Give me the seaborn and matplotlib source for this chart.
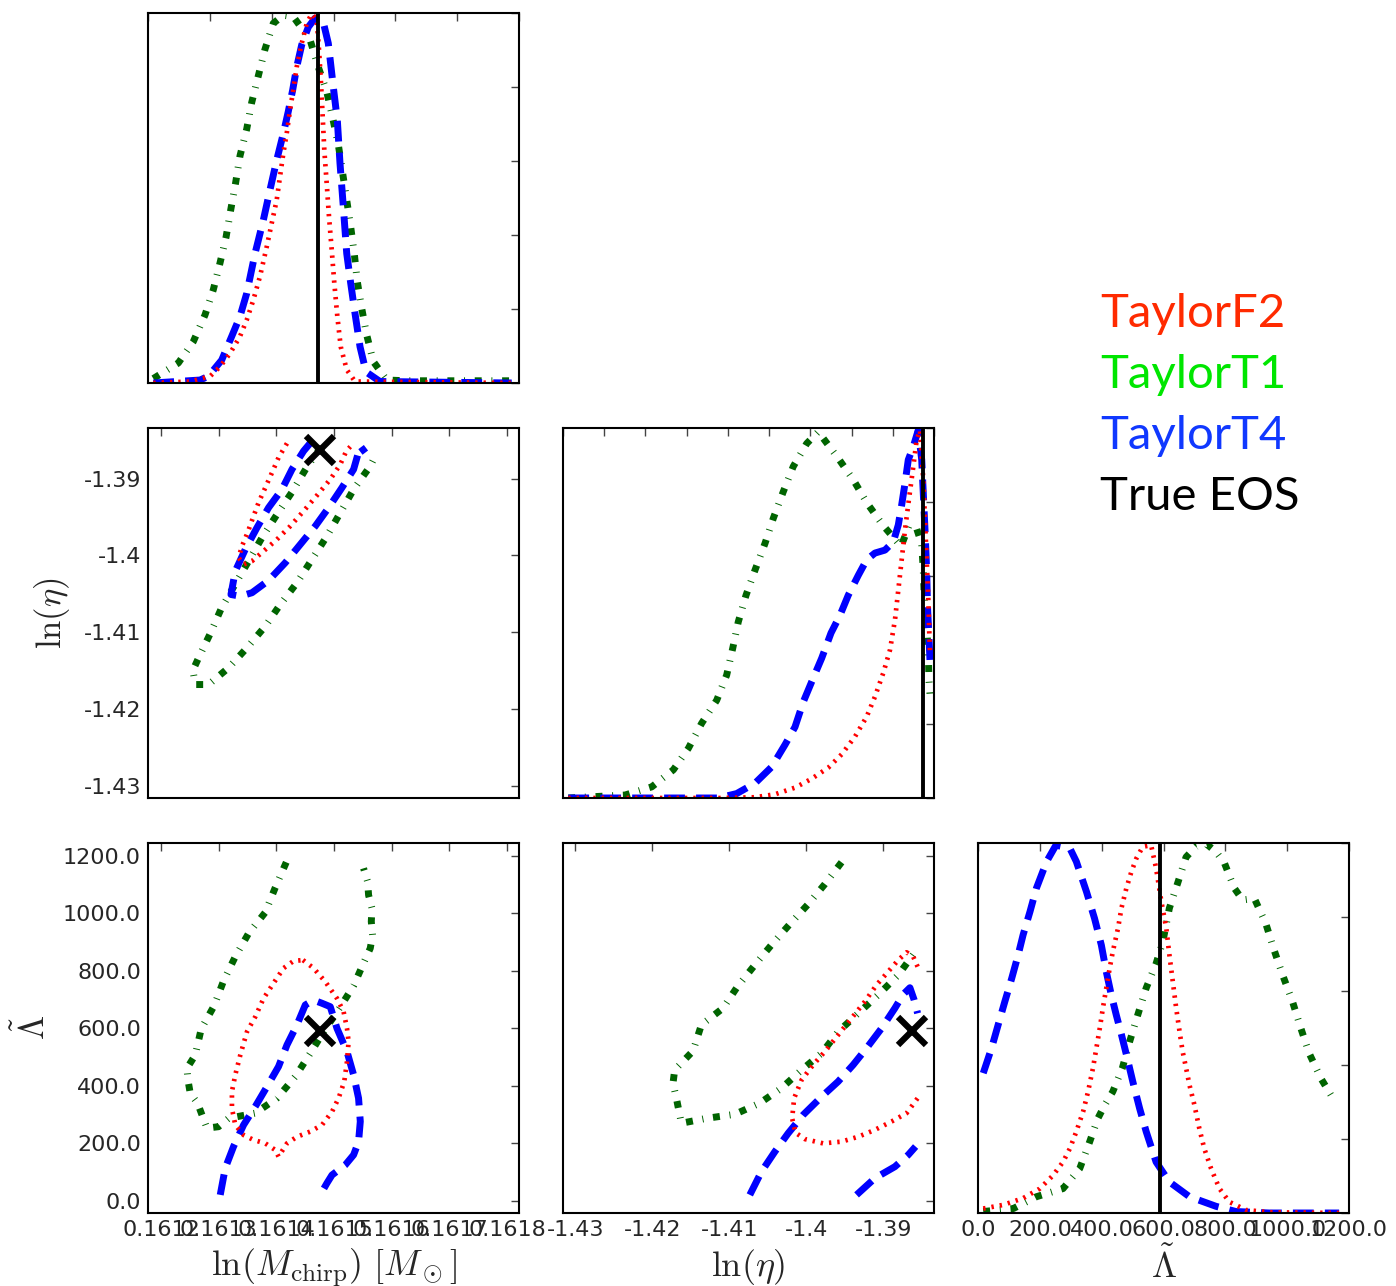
import matplotlib
matplotlib.use("Agg")
import matplotlib.pyplot as plt
from matplotlib.ticker import FormatStrFormatter
import seaborn as sns

# ---------------------------------------------------------------- data
labels = ["TaylorF2", "TaylorT1", "TaylorT4", "True EOS"]
label_colors = ["#FF2A00", "#00E600", "#1038FF", "black"]

true_lnmc = 0.161475
true_lneta = -1.3863
true_lambda = 590.0

lnmc_ticks = [0.1612, 0.1613, 0.1614, 0.1615, 0.1616, 0.1617, 0.1618]
lneta_ticks = [-1.43, -1.42, -1.41, -1.40, -1.39]
lneta_fine_ticks = [-1.43, -1.425, -1.42, -1.415, -1.41, -1.405, -1.40, -1.395, -1.39, -1.385]
lambda_ticks = [0, 200, 400, 600, 800, 1000, 1200]
density_ticks = [0, 1, 2, 3, 4, 5]

# marginal of ln(Mchirp)
mc_f2_x = [0.1612086, 0.1612679, 0.1613003, 0.1613164, 0.1613326, 0.1613488, 0.1613596, 0.1613703,
           0.1613811, 0.1613920, 0.1614001, 0.1614081, 0.1614135, 0.1614188, 0.1614243, 0.1614297,
           0.1614350, 0.1614405, 0.1614486, 0.1614567, 0.1614648, 0.1614728, 0.1614766, 0.1614798,
           0.1614825, 0.1614851, 0.1614890, 0.1614927, 0.1614971, 0.1615013, 0.1615062, 0.1615117,
           0.1615214, 0.1615348, 0.1617882]
mc_f2_y = [0.00, 0.02, 0.09, 0.22, 0.40, 0.63, 0.85, 1.12, 1.44, 1.84, 2.16, 2.47, 2.79, 3.10, 3.37,
           3.69, 3.96, 4.27, 4.59, 4.86, 4.99, 4.91, 4.50, 4.05, 3.60, 3.15, 2.70, 2.25, 1.80, 1.35,
           0.90, 0.49, 0.18, 0.02, 0.00]
mc_t1_x = [0.1612086, 0.1612490, 0.1612733, 0.1612922, 0.1613056, 0.1613164, 0.1613262, 0.1613338,
           0.1613418, 0.1613488, 0.1613596, 0.1613677, 0.1613784, 0.1613892, 0.1614026, 0.1614188,
           0.1614350, 0.1614620, 0.1614754, 0.1614890, 0.1614987, 0.1615078, 0.1615149, 0.1615214,
           0.1615278, 0.1615337, 0.1615385, 0.1615456, 0.1615537, 0.1615644, 0.1615861, 0.1616184,
           0.1617908]
mc_t1_y = [0.06, 0.27, 0.56, 0.92, 1.26, 1.62, 1.97, 2.34, 2.71, 3.07, 3.43, 3.79, 4.15, 4.51, 4.86,
           4.97, 4.95, 4.64, 4.27, 3.94, 3.58, 3.22, 2.83, 2.47, 2.11, 1.74, 1.37, 1.01, 0.65, 0.29,
           0.04, 0.03, 0.03]
mc_t4_x = [0.1612086, 0.1612841, 0.1612975, 0.1613192, 0.1613354, 0.1613488, 0.1613596, 0.1613731,
           0.1613865, 0.1613973, 0.1614081, 0.1614188, 0.1614269, 0.1614340, 0.1614405, 0.1614486,
           0.1614593, 0.1614701, 0.1614825, 0.1614916, 0.1614997, 0.1615062, 0.1615105, 0.1615159,
           0.1615214, 0.1615278, 0.1615348, 0.1615429, 0.1615526, 0.1615752, 0.1617882]
mc_t4_y = [0.00, 0.04, 0.09, 0.31, 0.63, 0.90, 1.21, 1.75, 2.20, 2.61, 3.01, 3.37, 3.67, 3.96, 4.27,
           4.57, 4.81, 4.93, 4.91, 4.59, 4.00, 3.55, 2.97, 2.38, 1.75, 1.35, 0.94, 0.49, 0.15, 0.02,
           0.00]

# contours in ln(Mchirp) - ln(eta)
c10_t1_x = [0.1614773, 0.1614512, 0.1614269, 0.1614009, 0.1613748, 0.1613516, 0.1613273, 0.1613042,
            0.1612851, 0.1612648, 0.1612550, 0.1612590, 0.1612821, 0.1613168, 0.1613488, 0.1613806,
            0.1614066, 0.1614356, 0.1614616, 0.1614877, 0.1615108, 0.1615339, 0.1615628, 0.1615745]
c10_t1_y = [-1.38583, -1.38870, -1.39175, -1.39466, -1.39769, -1.40074, -1.40387, -1.40691,
            -1.41017, -1.41334, -1.41496, -1.41682, -1.41682, -1.41464, -1.41203, -1.40922,
            -1.40639, -1.40356, -1.40052, -1.39748, -1.39443, -1.39140, -1.38836, -1.38661]
c10_t4_x = [0.1614616, 0.1614471, 0.1614269, 0.1614095, 0.1613863, 0.1613661, 0.1613458, 0.1613285,
            0.1613210, 0.1613371, 0.1613575, 0.1613863, 0.1614153, 0.1614413, 0.1614674, 0.1614905,
            0.1615137, 0.1615339, 0.1615455, 0.1615542]
c10_t4_y = [-1.38510, -1.38640, -1.38879, -1.39140, -1.39378, -1.39639, -1.39922, -1.40205,
            -1.40509, -1.40531, -1.40486, -1.40326, -1.40095, -1.39857, -1.39618, -1.39378,
            -1.39117, -1.38879, -1.38575, -1.38661]
c10_f2_x = [0.1614182, 0.1614036, 0.1613922, 0.1613806, 0.1613689, 0.1613592, 0.1613498, 0.1613401,
            0.1613342, 0.1613429, 0.1613575, 0.1613776, 0.1614009, 0.1614240, 0.1614471, 0.1614703,
            0.1614934, 0.1615108, 0.1615212, 0.1615281]
c10_f2_y = [-1.38540, -1.38726, -1.38922, -1.39117, -1.39313, -1.39509, -1.39704, -1.39879,
            -1.40030, -1.40117, -1.40074, -1.39944, -1.39791, -1.39618, -1.39422, -1.39218,
            -1.39009, -1.38814, -1.38640, -1.38583]

# marginal of ln(eta)
eta_t1_x = [-1.42936, -1.42248, -1.41924, -1.41662, -1.41480, -1.41318, -1.41136, -1.41015,
            -1.40942, -1.40874, -1.40780, -1.40671, -1.40550, -1.40449, -1.40328, -1.40207,
            -1.40044, -1.39904, -1.39661, -1.39479, -1.39309, -1.39115, -1.38900, -1.38803,
            -1.38710, -1.38649, -1.38630, -1.38618, -1.38589, -1.38569, -1.38561, -1.38549]
eta_t1_y = [0.00, 0.04, 0.15, 0.38, 0.67, 1.01, 1.32, 1.66, 2.02, 2.38, 2.74, 3.08, 3.44, 3.78, 4.14,
            4.48, 4.79, 4.95, 4.59, 4.30, 3.98, 3.68, 3.40, 3.68, 3.64, 3.43, 3.08, 2.72, 2.31, 1.96,
            1.59, 1.41]
eta_t4_x = [-1.42936, -1.41116, -1.40893, -1.40671, -1.40469, -1.40307, -1.40186, -1.40085,
            -1.39984, -1.39862, -1.39749, -1.39640, -1.39540, -1.39418, -1.39316, -1.39216,
            -1.39095, -1.38994, -1.38933, -1.38892, -1.38852, -1.38812, -1.38751, -1.38691,
            -1.38649, -1.38630, -1.38609, -1.38589, -1.38577, -1.38561, -1.38549]
eta_t4_y = [0.00, 0.00, 0.06, 0.20, 0.42, 0.72, 0.96, 1.30, 1.57, 1.89, 2.23, 2.47, 2.74, 3.01, 3.22,
            3.31, 3.35, 3.46, 3.69, 3.96, 4.25, 4.57, 4.75, 4.97, 4.57, 4.12, 3.62, 3.08, 2.54, 2.18,
            1.86]
eta_f2_x = [-1.42936, -1.41075, -1.40671, -1.40429, -1.40186, -1.39984, -1.39782, -1.39620,
            -1.39458, -1.39316, -1.39216, -1.39115, -1.39034, -1.38973, -1.38933, -1.38892,
            -1.38852, -1.38800, -1.38751, -1.38710, -1.38670, -1.38630, -1.38609, -1.38589,
            -1.38569, -1.38557, -1.38549]
eta_f2_y = [0.00, 0.00, 0.01, 0.05, 0.14, 0.26, 0.41, 0.59, 0.83, 1.10, 1.37, 1.69, 2.00, 2.41, 2.81,
            3.22, 3.62, 4.07, 4.48, 4.84, 4.97, 4.30, 3.76, 3.22, 2.68, 2.23, 1.96]

# contours in ln(Mchirp) - Lambda
c20_t1_x = [0.1614170, 0.1613979, 0.1613806, 0.1613516, 0.1613285, 0.1613082, 0.1612920, 0.1612694,
            0.1612590, 0.1612446, 0.1612464, 0.1612503, 0.1612630, 0.1612793, 0.1612995, 0.1613168,
            0.1613632, 0.1614009, 0.1614326, 0.1614587, 0.1614818, 0.1615095, 0.1615339, 0.1615524,
            0.1615628, 0.1615668, 0.1615646, 0.1615658, 0.1615599, 0.1615582, 0.1615512]
c20_t1_y = [1177, 1089, 1003, 930, 849, 765, 679, 598, 507, 461, 420, 374, 340, 253, 258, 287, 305,
            357, 432, 513, 588, 670, 748, 832, 878, 924, 971, 1017, 1063, 1110, 1156]
c20_f2_x = [0.1614460, 0.1614644, 0.1614847, 0.1615050, 0.1615165, 0.1615224, 0.1615252, 0.1615224,
            0.1615177, 0.1615078, 0.1614964, 0.1614790, 0.1614587, 0.1614356, 0.1614182, 0.1614036,
            0.1613979, 0.1613806, 0.1613602, 0.1613429, 0.1613285, 0.1613227, 0.1613227, 0.1613285,
            0.1613372, 0.1613488, 0.1613632, 0.1613776, 0.1613950, 0.1614123, 0.1614297, 0.1614460]
c20_f2_y = [837, 809, 762, 704, 658, 600, 554, 484, 415, 357, 310, 264, 241, 223, 200, 154, 177, 200,
            212, 229, 264, 322, 380, 438, 507, 588, 640, 704, 757, 809, 834, 837]
c20_t4_x = [0.1613024, 0.1613111, 0.1613255, 0.1613429, 0.1613632, 0.1613835, 0.1614036, 0.1614182,
            0.1614356, 0.1614500, 0.1614644, 0.1614790, 0.1614934, 0.1615050, 0.1615224, 0.1615339,
            0.1615425, 0.1615455, 0.1615425, 0.1615339, 0.1615194, 0.1614964, 0.1614877, 0.1614760]
c20_t4_y = [21, 114, 189, 264, 328, 397, 467, 542, 612, 681, 698, 687, 675, 600, 519, 438, 357, 276,
            206, 160, 125, 90, 62, 21]

# contours in ln(eta) - Lambda
c21_t1_x = [-1.39541, -1.39758, -1.39983, -1.40213, -1.40451, -1.40668, -1.40893, -1.41081,
            -1.41362, -1.41471, -1.41709, -1.41731, -1.41687, -1.41622, -1.41297, -1.40929,
            -1.40603, -1.40321, -1.40061, -1.39801, -1.39585, -1.39325, -1.39065, -1.38805,
            -1.38597]
c21_t1_y = [1177, 1101, 1029, 962, 890, 820, 745, 670, 612, 521, 455, 409, 357, 270, 287, 301, 340,
            392, 455, 513, 588, 652, 716, 785, 861]
c21_f2_x = [-1.38553, -1.38610, -1.38696, -1.38805, -1.38935, -1.39086, -1.39238, -1.39411,
            -1.39585, -1.39758, -1.39910, -1.40061, -1.40157, -1.40183, -1.40139, -1.40018,
            -1.39780, -1.39541, -1.39325, -1.39108, -1.38891, -1.38696, -1.38553]
c21_f2_y = [814, 849, 864, 837, 797, 751, 693, 635, 577, 519, 473, 420, 357, 287, 237, 215, 200,
            206, 223, 247, 276, 305, 357]
c21_t4a_x = [-1.40733, -1.40581, -1.40408, -1.40235, -1.40040, -1.39801, -1.39585, -1.39390,
             -1.39216, -1.39021, -1.38848, -1.38740, -1.38653, -1.38597, -1.38553]
c21_t4a_y = [21, 102, 171, 235, 299, 362, 415, 473, 531, 600, 670, 718, 741, 698, 652]
c21_t4b_x = [-1.39346, -1.39108, -1.38848, -1.38675, -1.38579]
c21_t4b_y = [21, 79, 119, 160, 189]

# marginal of Lambda
lam_t4_x = [17, 44, 65, 87, 109, 130, 146, 168, 189, 222, 252, 297, 318, 351, 377, 399, 415, 431,
            447, 464, 480, 501, 523, 544, 576, 619, 684, 770, 834, 942, 1168]
lam_t4_y = [1.89, 2.23, 2.54, 2.86, 3.17, 3.49, 3.76, 4.07, 4.39, 4.75, 4.97, 4.93, 4.75, 4.34, 3.98,
            3.62, 3.26, 2.95, 2.68, 2.41, 2.14, 1.77, 1.41, 1.10, 0.69, 0.42, 0.22, 0.09, 0.02, 0.00,
            0.00]
lam_f2_x = [17, 82, 146, 200, 243, 275, 297, 318, 340, 356, 372, 383, 394, 404, 415, 426, 436, 453,
            464, 480, 496, 512, 533, 560, 576, 593, 609, 619, 630, 641, 652, 662, 673, 684, 700, 716,
            732, 754, 781, 813, 867, 942, 1168]
lam_f2_y = [0.06, 0.11, 0.20, 0.33, 0.51, 0.69, 0.87, 1.10, 1.37, 1.64, 1.96, 2.23, 2.50, 2.77, 3.04,
            3.31, 3.53, 3.85, 4.12, 4.39, 4.61, 4.79, 4.95, 4.97, 4.66, 4.21, 3.85, 3.49, 3.13, 2.77,
            2.45, 2.18, 1.96, 1.73, 1.46, 1.14, 0.87, 0.60, 0.33, 0.15, 0.04, 0.01, 0.00]
lam_t1_x = [17, 114, 189, 275, 329, 361, 388, 410, 436, 467, 490, 517, 544, 576, 598, 619, 646, 673,
            705, 738, 770, 797, 829, 856, 894, 931, 958, 985, 1017, 1044, 1071, 1109, 1135, 1155]
lam_t1_y = [0.02, 0.06, 0.22, 0.33, 0.60, 0.96, 1.28, 1.46, 1.64, 1.96, 2.31, 2.68, 3.04, 3.37, 3.67,
            4.12, 4.46, 4.81, 4.95, 4.99, 4.88, 4.73, 4.39, 4.23, 4.25, 3.91, 3.55, 3.22, 2.86, 2.50,
            2.16, 1.82, 1.64, 1.50]

# ---------------------------------------------------------------- style
sns.set_style("white")
plt.rcParams.update({
    "font.family": ["DejaVu Sans"],
    "mathtext.fontset": "cm",
    "axes.unicode_minus": False,
    "lines.scale_dashes": False,
    "axes.linewidth": 1.5,
    "axes.edgecolor": "black",
    "figure.facecolor": "white",
})

STYLE = {
    "TaylorF2": dict(color="#FF0000", linewidth=3.4, linestyle=(0, (1.7, 4.3))),
    "TaylorT1": dict(color="#006400", linewidth=5.0, linestyle=(0, (5.0, 7.0, 0.7, 7.0))),
    "TaylorT4": dict(color="#0000FF", linewidth=5.0, linestyle=(0, (15.0, 8.0))),
}


def curve(ax, xs, ys, key):
    sns.lineplot(x=xs, y=ys, sort=False, estimator=None, ax=ax, **STYLE[key])


fig = plt.figure(figsize=(13.96, 12.86), dpi=100)
FW, FH = 1396.0, 1286.0
AW, AH = 371.0, 370.0


def panel(left, top):
    return fig.add_axes([left / FW, 1 - (top + AH) / FH, AW / FW, AH / FH])


def style_axes(ax, show_x=False, show_y=False):
    ax.tick_params(direction="in", top=True, right=True, length=6, width=1.0,
                   color="#444444", labelsize=16, pad=5,
                   labelbottom=show_x, labelleft=show_y)
    for s in ax.spines.values():
        s.set_linewidth(1.5)
        s.set_color("black")
        s.set_visible(True)


cols = [148, 563, 978]
rows = [13, 428, 843]

lnmc_lim = (0.161177, 0.161821)
lneta_lim = (-1.4316, -1.3834)
lambda_ylim = (-42, 1244)

# ln(Mchirp) marginal
ax00 = panel(cols[0], rows[0])
curve(ax00, mc_t1_x, mc_t1_y, "TaylorT1")
curve(ax00, mc_t4_x, mc_t4_y, "TaylorT4")
curve(ax00, mc_f2_x, mc_f2_y, "TaylorF2")
ax00.axvline(true_lnmc, color="black", lw=2.8)
ax00.set_xlim(lnmc_ticks[0], lnmc_ticks[-1])
ax00.set_ylim(density_ticks[0], density_ticks[-1])
ax00.set_xticks(lnmc_ticks)
ax00.set_yticks(density_ticks)
style_axes(ax00)

# ln(Mchirp) - ln(eta)
ax10 = panel(cols[0], rows[1])
curve(ax10, c10_t1_x, c10_t1_y, "TaylorT1")
curve(ax10, c10_t4_x, c10_t4_y, "TaylorT4")
curve(ax10, c10_f2_x, c10_f2_y, "TaylorF2")
ax10.plot([true_lnmc], [true_lneta], marker="x", ms=20, mew=4.5, color="black", ls="none")
ax10.set_xlim(*lnmc_lim)
ax10.set_ylim(*lneta_lim)
ax10.set_xticks(lnmc_ticks)
ax10.set_yticks(lneta_ticks)
ax10.yaxis.set_major_formatter(FormatStrFormatter("%g"))
style_axes(ax10, show_y=True)
ax10.set_ylabel(r"$\ln(\eta)$", fontsize=25, labelpad=8)

# ln(eta) marginal
ax11 = panel(cols[1], rows[1])
curve(ax11, eta_t1_x, eta_t1_y, "TaylorT1")
curve(ax11, eta_t4_x, eta_t4_y, "TaylorT4")
curve(ax11, eta_f2_x, eta_f2_y, "TaylorF2")
ax11.axvline(true_lneta, color="black", lw=2.8)
ax11.set_xlim(lneta_fine_ticks[0], lneta_fine_ticks[-1])
ax11.set_ylim(density_ticks[0], density_ticks[-1])
ax11.set_xticks(lneta_fine_ticks)
ax11.set_yticks(density_ticks)
style_axes(ax11)

# ln(Mchirp) - Lambda
ax20 = panel(cols[0], rows[2])
curve(ax20, c20_t1_x, c20_t1_y, "TaylorT1")
curve(ax20, c20_t4_x, c20_t4_y, "TaylorT4")
curve(ax20, c20_f2_x, c20_f2_y, "TaylorF2")
ax20.plot([true_lnmc], [true_lambda], marker="x", ms=20, mew=4.5, color="black", ls="none")
ax20.set_xlim(*lnmc_lim)
ax20.set_ylim(*lambda_ylim)
ax20.set_xticks(lnmc_ticks)
ax20.set_yticks(lambda_ticks)
ax20.xaxis.set_major_formatter(FormatStrFormatter("%g"))
ax20.yaxis.set_major_formatter(FormatStrFormatter("%.1f"))
style_axes(ax20, show_x=True, show_y=True)
ax20.set_xlabel(r"$\ln(M_{\rm chirp})\ [M_\odot]$", fontsize=26, labelpad=5)
ax20.set_ylabel(r"$\tilde{\Lambda}$", fontsize=25, labelpad=8)

# ln(eta) - Lambda
ax21 = panel(cols[1], rows[2])
curve(ax21, c21_t1_x, c21_t1_y, "TaylorT1")
curve(ax21, c21_t4a_x, c21_t4a_y, "TaylorT4")
curve(ax21, c21_t4b_x, c21_t4b_y, "TaylorT4")
curve(ax21, c21_f2_x, c21_f2_y, "TaylorF2")
ax21.plot([true_lneta], [true_lambda], marker="x", ms=20, mew=4.5, color="black", ls="none")
ax21.set_xlim(*lneta_lim)
ax21.set_ylim(*lambda_ylim)
ax21.set_xticks(lneta_ticks)
ax21.set_yticks(lambda_ticks)
ax21.xaxis.set_major_formatter(FormatStrFormatter("%g"))
style_axes(ax21, show_x=True)
ax21.set_xlabel(r"$\ln(\eta)$", fontsize=26, labelpad=5)

# Lambda marginal
ax22 = panel(cols[2], rows[2])
curve(ax22, lam_t1_x, lam_t1_y, "TaylorT1")
curve(ax22, lam_t4_x, lam_t4_y, "TaylorT4")
curve(ax22, lam_f2_x, lam_f2_y, "TaylorF2")
ax22.axvline(true_lambda, color="black", lw=2.8)
ax22.set_xlim(lambda_ticks[0], lambda_ticks[-1])
ax22.set_ylim(density_ticks[0], density_ticks[-1])
ax22.set_xticks(lambda_ticks)
ax22.set_yticks(density_ticks)
ax22.xaxis.set_major_formatter(FormatStrFormatter("%.1f"))
style_axes(ax22, show_x=True)
ax22.set_xlabel(r"$\tilde{\Lambda}$", fontsize=26, labelpad=5)

# text legend
for i, (txt, col) in enumerate(zip(labels, label_colors)):
    fig.text(1100 / FW, 1 - (327 + 61 * i) / FH, txt, color=col, fontsize=34,
             family="Lato", va="baseline", ha="left")

fig.savefig("out.png", dpi=100)
